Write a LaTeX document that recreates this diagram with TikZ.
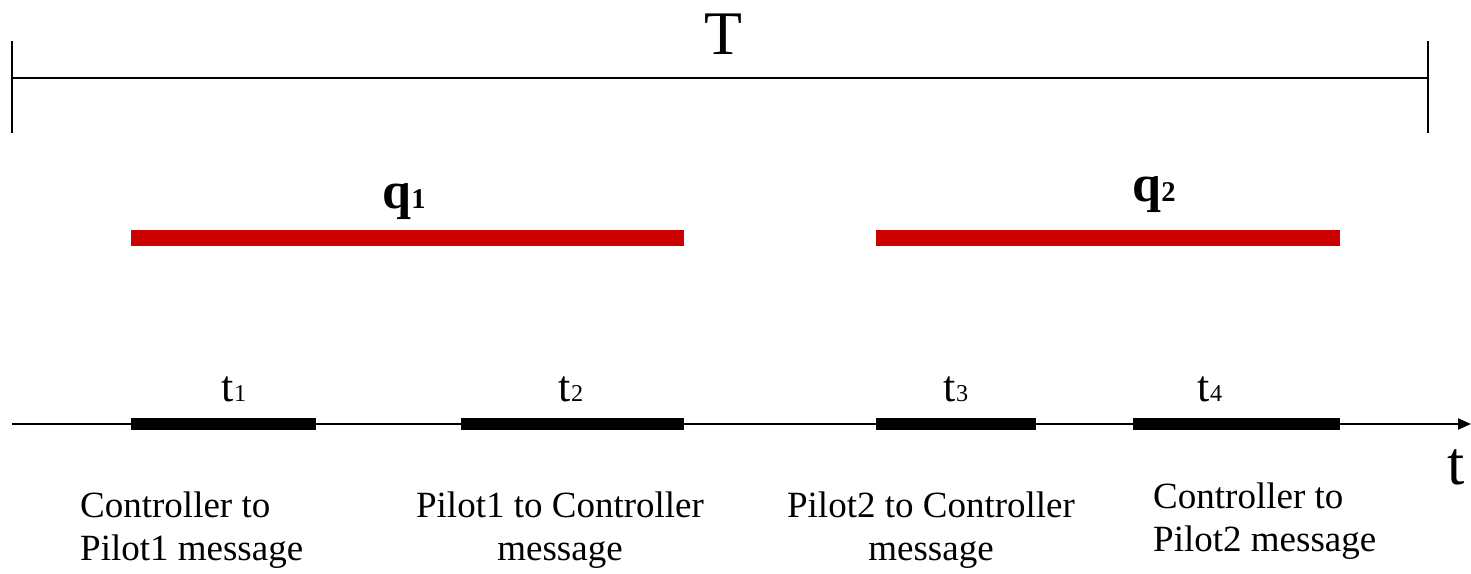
\documentclass[tikz,border=0pt]{standalone}
\usepackage{fontspec}
\setmainfont{Liberation Serif}
\usetikzlibrary{arrows.meta,calc}
\definecolor{qred}{RGB}{204,0,0}
\newcommand{\idx}[1]{\scalebox{0.55}{#1}}

\begin{document}
\begin{tikzpicture}[x=1pt,y=-1pt,
  ln/.style={line width=2pt},
  rbar/.style={draw=qred,line width=16pt},
  kbar/.style={line width=12pt},
  big/.style={inner sep=0pt,font=\fontsize{62}{70}\selectfont},
  qb/.style={inner sep=0pt,font=\fontsize{52}{58}\selectfont\bfseries},
  lbl/.style={inner sep=0pt,font=\fontsize{44}{48}\selectfont},
  msg/.style={inner sep=0pt,font=\fontsize{37}{43}\selectfont}]
  \useasboundingbox (0,0) rectangle (1471,573);
  % period T
  \coordinate (Tl) at (12,78);
  \coordinate (Tr) at (1428,78);
  \draw[ln] (Tl) -- (Tr);
  \draw[ln] ($(Tl)+(0,-37)$) -- ($(Tl)+(0,55)$);
  \draw[ln] ($(Tr)+(0,-37)$) -- ($(Tr)+(0,55)$);
  \node[big] (T) at (723,34) {T};
  % red intervals
  \coordinate (q1a) at (131,238); \coordinate (q1b) at (684,238);
  \coordinate (q2a) at (876,238); \coordinate (q2b) at (1340,238);
  \draw[rbar] (q1a) -- (q1b);
  \draw[rbar] (q2a) -- (q2b);
  \node[qb] (q1) at (404,202) {q\idx{1}};
  \node[qb] (q2) at (1154,195) {q\idx{2}};
  % time axis
  \coordinate (o) at (12,424);
  \coordinate (e) at (1471,424);
  \draw[ln,-{Triangle[length=13pt,width=11pt]}] (o) -- (e);
  \node[big] (t) at (1456,467) {t};
  \coordinate (t1a) at (131,424); \coordinate (t1b) at (316,424);
  \coordinate (t2a) at (461,424); \coordinate (t2b) at (684,424);
  \coordinate (t3a) at (876,424); \coordinate (t3b) at (1036,424);
  \coordinate (t4a) at (1133,424); \coordinate (t4b) at (1340,424);
  \draw[kbar] (t1a) -- (t1b);
  \draw[kbar] (t2a) -- (t2b);
  \draw[kbar] (t3a) -- (t3b);
  \draw[kbar] (t4a) -- (t4b);
  \node[lbl] (t1) at (234,389) {t\idx{1}};
  \node[lbl] (t2) at (571,389) {t\idx{2}};
  \node[lbl] (t3) at (956,389) {t\idx{3}};
  \node[lbl] (t4) at (1210,389) {t\idx{4}};
  % messages
  \node[msg,align=left,anchor=west] (m1) at (80,530) {Controller to\\Pilot1 message};
  \node[msg,align=center] (m2) at (560,530) {Pilot1 to Controller\\message};
  \node[msg,align=center] (m3) at (931,530) {Pilot2 to Controller\\message};
  \node[msg,align=left,anchor=west] (m4) at (1153,521) {Controller to\\Pilot2 message};
\end{tikzpicture}
\end{document}
